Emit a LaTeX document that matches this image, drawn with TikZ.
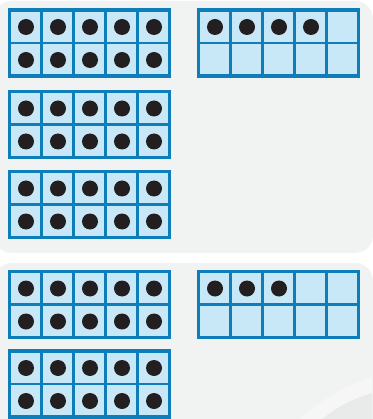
\documentclass[tikz,border=0pt]{standalone}
\definecolor{panel}{HTML}{F1F2F2}
\definecolor{frameblue}{RGB}{14,126,186}
\definecolor{cellblue}{RGB}{200,232,248}
\definecolor{dotblack}{HTML}{231F20}
\definecolor{swlight}{HTML}{F6F6F6}
\definecolor{swdark}{HTML}{E9EAEA}
\tikzset{
  innerline/.style={frameblue, line width=2.4pt},
  outerline/.style={frameblue, line width=3.2pt, line join=miter},
  counter/.style={fill=dotblack},
  panelbox/.style={fill=panel, rounded corners=18pt}
}
\newcommand\tenframe[3]{%
  \begin{scope}[shift={(#1,#2)}]
    \fill[cellblue] (0,0) rectangle (160,66);
    \foreach \i in {1,...,4} \draw[innerline] (\i*32,0) -- (\i*32,66);
    \draw[innerline] (0,33) -- (160,33);
    \draw[outerline] (0,0) rectangle (160,66);
    \foreach \k in {1,...,#3} {
      \pgfmathtruncatemacro\col{mod(\k-1,5)}
      \pgfmathtruncatemacro\row{int((\k-1)/5)}
      \fill[counter] (\col*32+16.5,\row*33+17) circle[radius=8pt];
    }
  \end{scope}}
\begin{document}
\begin{tikzpicture}[x=1pt,y=-1pt]
  \useasboundingbox (0,0) rectangle (372,419);
  \fill[white] (0,0) rectangle (372,419);
  % panels
  \fill[panelbox] (-6,1) rectangle (373,253);
  \fill[panelbox] (-6,263) rectangle (373,450);
  % swoosh
  \fill[swdark] (322,419) .. controls (338,406) and (354,398) .. (372,393) -- (372,419) -- cycle;
  \fill[swlight] (300,419) .. controls (320,400) and (345,386) .. (372,377) -- (372,393) .. controls (354,398) and (338,406) .. (322,419) -- cycle;
  % ten frames
  \tenframe{9.5}{10}{10}
  \tenframe{198.5}{10}{4}
  \tenframe{9.5}{91.5}{10}
  \tenframe{9.5}{171.5}{10}
  \tenframe{9.5}{271.5}{10}
  \tenframe{198.5}{271.5}{3}
  \tenframe{9.5}{351}{10}
\end{tikzpicture}
\end{document}
